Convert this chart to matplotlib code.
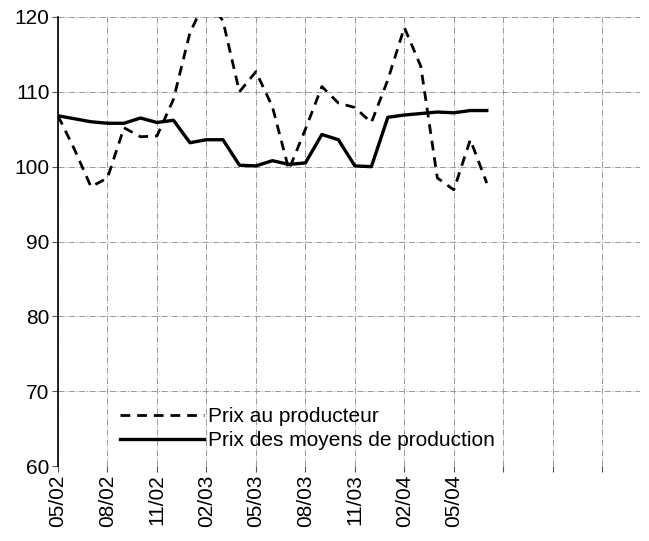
import matplotlib
matplotlib.use("Agg")
import matplotlib.pyplot as plt

plt.rcParams['font.family'] = ['Liberation Sans', 'DejaVu Sans']

# monthly data, 05/02 .. 07/04
months = ["05/02", "06/02", "07/02", "08/02", "09/02", "10/02", "11/02", "12/02",
          "01/03", "02/03", "03/03", "04/03", "05/03", "06/03", "07/03", "08/03",
          "09/03", "10/03", "11/03", "12/03", "01/04", "02/04", "03/04", "04/04",
          "05/04", "06/04", "07/04"]

prix_producteur = [106.8, 102.3, 97.3, 98.5, 105.2, 104.0, 104.1, 109.0,
                   117.9, 122.5, 119.5, 110.0, 112.7, 108.0, 99.6, 105.0,
                   110.7, 108.5, 107.9, 105.9, 111.6, 118.6, 113.4, 98.5,
                   96.9, 103.6, 97.8]

prix_moyens = [106.8, 106.4, 106.0, 105.8, 105.8, 106.5, 105.9, 106.2,
               103.2, 103.6, 103.6, 100.2, 100.1, 100.8, 100.3, 100.5,
               104.3, 103.6, 100.1, 100.0, 106.6, 106.9, 107.1, 107.3,
               107.2, 107.5, 107.5]

tick_labels = ["05/02", "08/02", "11/02", "02/03", "05/03", "08/03", "11/03", "02/04", "05/04"]

fig = plt.figure(figsize=(6.49, 5.41), dpi=100)
ax = fig.add_axes([0.0894, 0.1386, 0.897, 0.830])

x = list(range(len(months)))
ax.plot(x, prix_producteur, color="black", lw=2, dashes=(3.5, 2.5), label="Prix au producteur")
ax.plot(x, prix_moyens, color="black", lw=2.4, label="Prix des moyens de production")

ax.set_ylim(60, 120)
ax.set_yticks(range(60, 121, 10))
ax.set_xlim(0, 35.3)
grid_x = list(range(0, 34, 3))
ax.set_xticks(grid_x)
ax.set_xticklabels(tick_labels + [""] * (len(grid_x) - len(tick_labels)), rotation=90)

ax.grid(True, color="#999999", linestyle="-.", linewidth=0.7)
ax.set_axisbelow(True)
for s in ["top", "right", "bottom"]:
    ax.spines[s].set_visible(False)
ax.spines["left"].set_linewidth(1.2)
ax.tick_params(labelsize=15, length=4, width=0.8, color="#555555", pad=2)

ax.legend(loc="lower left", bbox_to_anchor=(0.107, 0.035), frameon=False, fontsize=15,
          handlelength=4.0, handletextpad=0.2, labelspacing=0.25, borderaxespad=0,
          borderpad=0)

fig.savefig("out.png", dpi=100)
